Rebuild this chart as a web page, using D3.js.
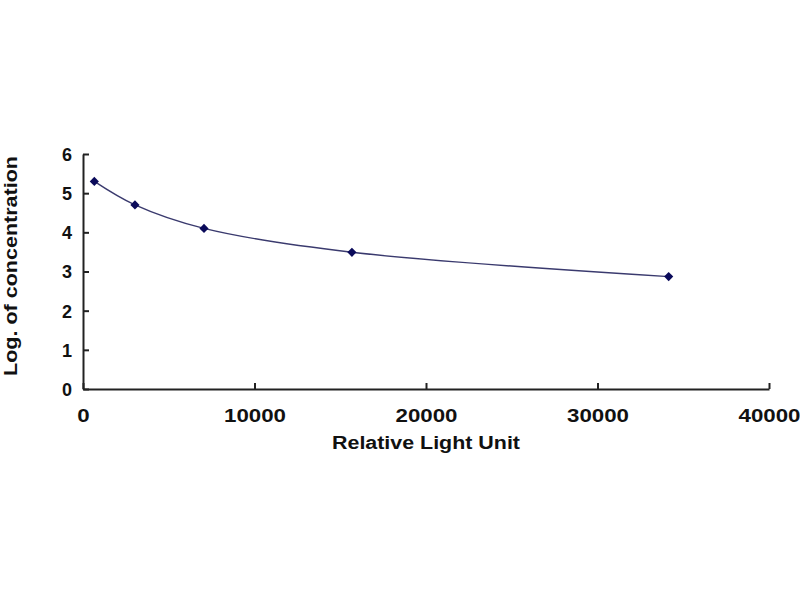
<!DOCTYPE html>
<html>
<head>
<meta charset="utf-8">
<script src="https://cdn.jsdelivr.net/npm/d3@7"></script>
<style>
  html, body { margin: 0; padding: 0; background: #fff; }
  text { font-family: "Liberation Sans", Arial, sans-serif; font-weight: bold; fill: #111; }
</style>
</head>
<body>
<svg id="chart" width="800" height="600"></svg>
<script>
// Data
const rlu = [660, 3030, 7055, 15680, 34150];
const logConc = [5.3, 4.7, 4.1, 3.49, 2.87];
const xTicks = [0, 10000, 20000, 30000, 40000];
const yTicks = [0, 1, 2, 3, 4, 5, 6];
const xTitle = "Relative Light Unit";
const yTitle = "Log. of concentration";

const svg = d3.select("#chart");
const x = d3.scaleLinear().domain([0, 40000]).range([83, 769]);
const y = d3.scaleLinear().domain([0, 6]).range([389, 154]);

const points = rlu.map((v, i) => ({ x: v, y: logConc[i] }));

// Axes
const xAxis = d3.axisBottom(x).tickValues(xTicks).tickSizeInner(-6).tickSizeOuter(0).tickFormat(d => d);
const yAxis = d3.axisLeft(y).tickValues(yTicks).tickSizeInner(-6).tickSizeOuter(0).tickFormat(d => d);

const gx = svg.append("g").attr("transform", `translate(0,${y(0)})`).call(xAxis);
const gy = svg.append("g").attr("transform", `translate(${x(0)},0)`).call(yAxis);

[gx, gy].forEach(g => {
  g.select(".domain").attr("stroke", "#222").attr("stroke-width", 2);
  g.selectAll(".tick line").attr("stroke", "#222").attr("stroke-width", 2);
  g.selectAll(".tick text").attr("font-size", 18).attr("font-family", null).attr("fill", "#111");
});
gx.selectAll(".tick text")
  .attr("dy", null).attr("y", 33)
  .attr("textLength", d => String(d).length * 12.4)
  .attr("lengthAdjust", "spacingAndGlyphs");
gy.selectAll(".tick text").attr("x", -11).attr("dy", "0.36em");

// Trend curve through the points
const line = d3.line().x(d => x(d.x)).y(d => y(d.y)).curve(d3.curveCatmullRom.alpha(0.5));
svg.append("path").datum(points)
  .attr("d", line)
  .attr("fill", "none")
  .attr("stroke", "#3a3a6e")
  .attr("stroke-width", 1.4);

// Diamond markers (rotated squares)
const diamond = d3.symbol().type(d3.symbolSquare).size(42);
svg.selectAll("path.pt").data(points).enter().append("path")
  .attr("class", "pt")
  .attr("d", diamond)
  .attr("transform", d => `translate(${x(d.x)},${y(d.y)}) rotate(45)`)
  .attr("fill", "#0a0a5a");

// Axis titles
svg.append("text")
  .attr("x", (x(0) + x(40000)) / 2).attr("y", 449)
  .attr("text-anchor", "middle").attr("font-size", 18)
  .attr("textLength", 188).attr("lengthAdjust", "spacingAndGlyphs")
  .text(xTitle);

svg.append("text")
  .attr("transform", `translate(17,266) rotate(-90)`)
  .attr("text-anchor", "middle").attr("font-size", 18)
  .attr("textLength", 220).attr("lengthAdjust", "spacingAndGlyphs")
  .text(yTitle);
</script>
</body>
</html>
